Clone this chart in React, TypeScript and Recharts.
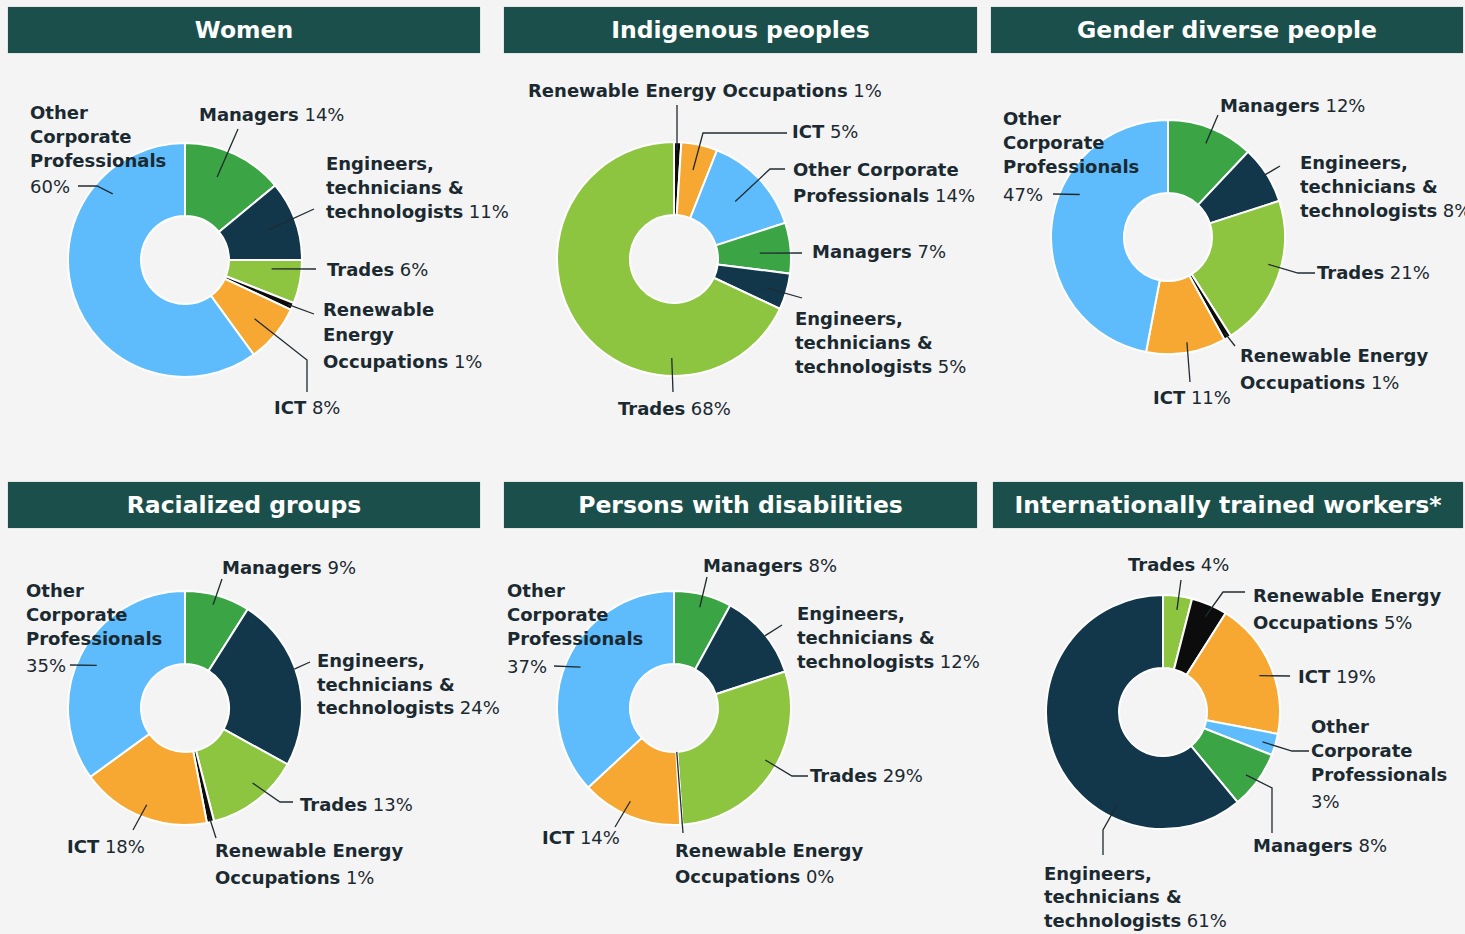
import React from 'react';
import { PieChart, Pie, Cell } from 'recharts';

// ---------- data ----------
const CATEGORIES = [
  'Managers',
  'Engineers, technicians & technologists',
  'Trades',
  'Renewable Energy Occupations',
  'ICT',
  'Other Corporate Professionals',
];

// values in CATEGORIES order (percent)
const womenValues = [14, 11, 6, 1, 8, 60];
const indigenousValues = [7, 5, 68, 1, 5, 14];
const genderDiverseValues = [12, 8, 21, 1, 11, 47];
const racializedValues = [9, 24, 13, 1, 18, 35];
const disabilitiesValues = [8, 12, 29, 0.3, 14, 37];
const internationalValues = [8, 61, 4, 5, 19, 3];

// slice order, clockwise from 12 o'clock (indices into CATEGORIES)
const standardOrder = [0, 1, 2, 3, 4, 5];
const indigenousOrder = [3, 4, 5, 0, 1, 2];
const internationalOrder = [2, 3, 4, 5, 0, 1];

const TITLES = [
  'Women',
  'Indigenous peoples',
  'Gender diverse people',
  'Racialized groups',
  'Persons with disabilities',
  'Internationally trained workers*',
];

// ---------- styles ----------
const COLORS = ['#3ba545', '#12374b', '#8dc540', '#0c0c0c', '#f7a833', '#5ebcfc'];
const BG = '#f4f4f4';
const HEADER_BG = '#1b4f4c';
const TEXT = '#1b2930';
const FONT = '"DejaVu Sans", sans-serif';

type LabelLayout = {
  f?: number;
  rr: number;
  pts: [number, number][];
  tx: number;
  ty: number;
  split?: number[];
  pctLine?: boolean;
  gaps?: number[];
};

const womenLabels: Record<number, LabelLayout> = {
  0: { f: 0.42, rr: 89, pts: [[53, -131]], tx: 14, ty: -139 },
  1: { f: 0.5, rr: 88, pts: [[129, -51]], tx: 141, ty: -90, split: [1, 3] },
  2: { f: 0.27, rr: 87, pts: [[131, 9]], tx: 142, ty: 16 },
  3: { f: 0.5, rr: 112, pts: [[129, 54]], tx: 138, ty: 56, split: [1, 2], gaps: [25, 27] },
  4: { f: 0.52, rr: 91, pts: [[122, 100], [122, 132]], tx: 89, ty: 154 },
  5: { f: 0.78, rr: 98, pts: [[-88, -74], [-107, -74]], tx: -155, ty: -141, split: [1, 2], pctLine: true, gaps: [24, 24, 26] },
};
const indigenousLabels: Record<number, LabelLayout> = {
  3: { f: 0.44, rr: 109, pts: [[3, -154]], tx: -146, ty: -162 },
  4: { f: 0.47, rr: 91, pts: [[29, -126], [113, -126]], tx: 118, ty: -121 },
  5: { f: 0.5, rr: 84, pts: [[96, -90], [111, -90]], tx: 119, ty: -83, split: [2], gaps: [26] },
  0: { f: 0.56, rr: 86, pts: [[128, -6]], tx: 138, ty: -1 },
  1: { f: 0.56, rr: 97, pts: [[128, 39]], tx: 121, ty: 66, split: [1, 3] },
  2: { f: 0.27, rr: 99, pts: [[-1, 133]], tx: -56, ty: 156 },
};
const genderLabels: Record<number, LabelLayout> = {
  0: { f: 0.51, rr: 101, pts: [[50, -122]], tx: 52, ty: -125 },
  1: { f: 0.49, rr: 114, pts: [[112, -71]], tx: 132, ty: -68, split: [1, 3] },
  2: { f: 0.44, rr: 104, pts: [[130, 36], [147, 36]], tx: 149, ty: 42 },
  3: { f: 0.5, rr: 111, pts: [[67, 109]], tx: 72, ty: 125, split: [2], gaps: [27] },
  4: { f: 0.47, rr: 107, pts: [[22, 145]], tx: -15, ty: 167 },
  5: { f: 0.62, rr: 98, pts: [[-115, -43]], tx: -165, ty: -112, split: [1, 2], pctLine: true, gaps: [24, 24, 28] },
};
const racializedLabels: Record<number, LabelLayout> = {
  0: { f: 0.47, rr: 107, pts: [[37, -129]], tx: 37, ty: -134 },
  1: { f: 0.44, rr: 116, pts: [[125, -46]], tx: 132, ty: -41, split: [1, 3], gaps: [24, 23] },
  2: { f: 0.41, rr: 101, pts: [[95, 94], [108, 94]], tx: 115, ty: 103 },
  3: { f: 0.5, rr: 113, pts: [[31, 130]], tx: 30, ty: 149, split: [2], gaps: [27] },
  4: { f: 0.5, rr: 104, pts: [[-52, 122]], tx: -118, ty: 145 },
  5: { f: 0.49, rr: 98, pts: [[-115, -43]], tx: -159, ty: -111, split: [1, 2], pctLine: true, gaps: [24, 24, 27] },
};
const disabilitiesLabels: Record<number, LabelLayout> = {
  0: { f: 0.5, rr: 104, pts: [[33, -131]], tx: 29, ty: -136 },
  1: { f: 0.53, rr: 116, pts: [[108, -83]], tx: 123, ty: -88, split: [1, 3] },
  2: { f: 0.46, rr: 105, pts: [[118, 68], [134, 68]], tx: 136, ty: 74 },
  3: { f: 0.5, rr: 44, pts: [[9, 125]], tx: 1, ty: 149, split: [2], gaps: [26] },
  4: { f: 0.56, rr: 103, pts: [[-59, 119]], tx: -132, ty: 136 },
  5: { f: 0.5, rr: 102, pts: [[-120, -42]], tx: -167, ty: -111, split: [1, 2], pctLine: true, gaps: [24, 24, 28] },
};
const internationalLabels: Record<number, LabelLayout> = {
  2: { f: 0.54, rr: 103, pts: [[18, -132]], tx: -35, ty: -141 },
  3: { f: 0.53, rr: 104, pts: [[60, -120], [82, -120]], tx: 90, ty: -110, split: [2], gaps: [27] },
  4: { f: 0.54, rr: 103, pts: [[127, -36]], tx: 135, ty: -29 },
  5: { f: 0.55, rr: 104, pts: [[129, 39], [146, 39]], tx: 148, ty: 21, split: [1, 2], pctLine: true, gaps: [24, 24, 27] },
  0: { f: 0.54, rr: 104, pts: [[109, 76], [109, 121]], tx: 90, ty: 140 },
  1: { f: 0.3, rr: 102, pts: [[-60, 118], [-60, 143]], tx: -119, ty: 168, split: [1, 3], gaps: [23, 24] },
};

const PANELS = [
  { values: womenValues, order: standardOrder, labels: womenLabels, cx: 185, cy: 260, hx: 8, hy: 7, hw: 472 },
  { values: indigenousValues, order: indigenousOrder, labels: indigenousLabels, cx: 674, cy: 259, hx: 504, hy: 7, hw: 473 },
  { values: genderDiverseValues, order: standardOrder, labels: genderLabels, cx: 1168, cy: 237, hx: 991, hy: 7, hw: 472 },
  { values: racializedValues, order: standardOrder, labels: racializedLabels, cx: 185, cy: 708, hx: 8, hy: 482, hw: 472 },
  { values: disabilitiesValues, order: standardOrder, labels: disabilitiesLabels, cx: 674, cy: 708, hx: 504, hy: 482, hw: 473 },
  { values: internationalValues, order: internationalOrder, labels: internationalLabels, cx: 1163, cy: 712, hx: 993, hy: 482, hw: 470 },
];

const RAD = Math.PI / 180;
const polar = (cx: number, cy: number, r: number, a: number): [number, number] => [
  cx + Math.cos(-a * RAD) * r,
  cy + Math.sin(-a * RAD) * r,
];

const makeLabel = (layouts: Record<number, LabelLayout>) => (props: any) => {
  const { cx, cy, startAngle, endAngle, payload, value } = props;
  const cat = payload?.cat ?? props.cat;
  const L = layouts[cat];
  if (!L) return null;
  const f = L.f ?? 0.5;
  const ang = startAngle + f * (endAngle - startAngle);
  const start = polar(cx, cy, L.rr, ang);
  const pts = [start, ...L.pts.map(([dx, dy]) => [cx + dx, cy + dy])];
  const words = CATEGORIES[cat].split(' ');
  const lines: string[] = [];
  let cur: string[] = [];
  const split = L.split ?? [];
  words.forEach((w, i) => {
    cur.push(w);
    if (split.includes(i + 1)) {
      lines.push(cur.join(' '));
      cur = [];
    }
  });
  if (cur.length) lines.push(cur.join(' '));
  const pct = `${Math.round(value)}%`;
  const rows = lines.map((t) => ({ name: t, pct: '' }));
  if (L.pctLine) rows.push({ name: '', pct });
  else rows[rows.length - 1].pct = pct;
  const gaps = L.gaps ?? [];
  let y = cy + L.ty;
  const ys = rows.map((_, i) => {
    const v = y;
    y += gaps[i] ?? 24;
    return v;
  });
  return (
    <g key={`lbl-${cat}`}>
      <polyline
        points={pts.map((p) => p.join(',')).join(' ')}
        fill="none"
        stroke="#1f2b31"
        strokeWidth={1.3}
      />
      {rows.map((r, i) => (
        <text
          key={i}
          x={cx + L.tx}
          y={ys[i]}
          fill={TEXT}
          fontSize={18}
          fontFamily={FONT}
          style={{ whiteSpace: 'pre' }}
        >
          {r.name && <tspan fontWeight={700}>{r.name}</tspan>}
          {r.pct && <tspan fontWeight={400}>{(r.name ? ' ' : '') + r.pct}</tspan>}
        </text>
      ))}
    </g>
  );
};

export default function App() {
  return (
    <div
      style={{
        position: 'absolute',
        left: 0,
        top: 0,
        width: 1465,
        height: 934,
        background: BG,
        overflow: 'hidden',
        fontFamily: FONT,
      }}
    >
      <div style={{ position: 'absolute', left: 0, top: 0 }}>
        <PieChart width={1465} height={934} margin={{ top: 0, right: 0, bottom: 0, left: 0 }}>
          {PANELS.map((p, k) => {
            const data = p.order.map((i) => ({ name: CATEGORIES[i], value: p.values[i], cat: i }));
            return (
              <Pie
                key={k}
                data={data}
                dataKey="value"
                nameKey="name"
                cx={p.cx}
                cy={p.cy}
                innerRadius={44}
                outerRadius={117}
                startAngle={90}
                endAngle={-270}
                stroke="#ffffff"
                strokeWidth={2}
                isAnimationActive={false}
                labelLine={false}
                label={makeLabel(p.labels)}
              >
                {data.map((d) => (
                  <Cell key={d.cat} fill={COLORS[d.cat]} />
                ))}
              </Pie>
            );
          })}
        </PieChart>
      </div>
      {PANELS.map((p, k) => (
        <div
          key={k}
          style={{
            position: 'absolute',
            left: p.hx,
            top: p.hy,
            width: p.hw,
            height: 46,
            background: HEADER_BG,
            color: '#ffffff',
            fontWeight: 700,
            fontSize: 23.5,
            display: 'flex',
            alignItems: 'center',
            justifyContent: 'center',
            boxShadow: '0 0 1px rgba(0,0,0,0.35)',
          }}
        >
          {TITLES[k]}
        </div>
      ))}
    </div>
  );
}
